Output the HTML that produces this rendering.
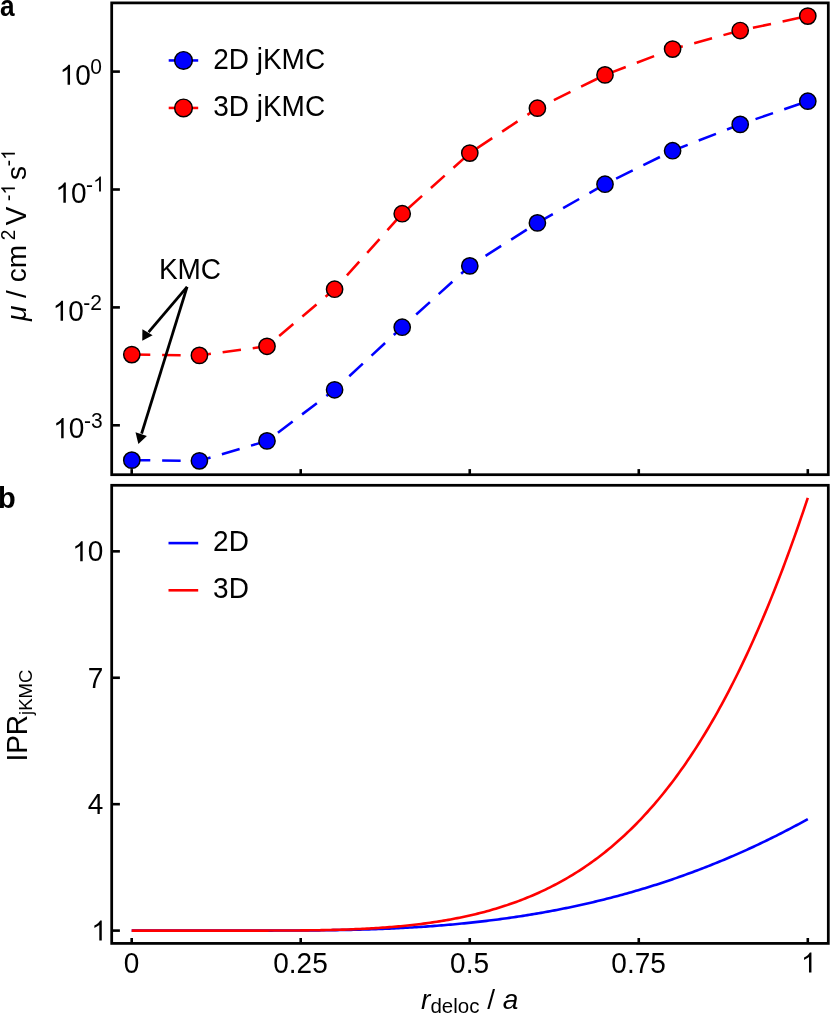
<!DOCTYPE html>
<html><head><meta charset="utf-8"><title>chart</title>
<style>html,body{margin:0;padding:0;background:#fff;}body{width:831px;height:1016px;overflow:hidden;font-family:"Liberation Sans", sans-serif;}svg{display:block;will-change:transform;}</style></head>
<body>
<svg width="831" height="1016" viewBox="0 0 831 1016" font-family='"Liberation Sans", sans-serif' font-size="28" fill="#000">
<rect width="831" height="1016" fill="#fff"/>
<path d="M131.80,460.15 L199.40,460.85 L267.00,440.90 L334.60,389.80 L402.20,327.20 L469.80,265.90 L537.40,222.90 L605.00,184.20 L672.60,150.70 L740.20,124.40 L807.80,101.20" fill="none" stroke="#0000ff" stroke-width="2.55" stroke-dasharray="18.5 11.85"/>
<path d="M131.80,354.60 L199.40,355.40 L267.00,346.30 L334.60,289.20 L402.20,213.70 L469.80,153.10 L537.40,108.20 L605.00,74.90 L672.60,49.10 L740.20,30.50 L807.80,16.10" fill="none" stroke="#ff0000" stroke-width="2.55" stroke-dasharray="18.5 11.85"/>
<path d="M131.70,930.60 L133.96,930.60 L136.22,930.60 L138.48,930.60 L140.74,930.60 L143.01,930.60 L145.27,930.60 L147.53,930.60 L149.79,930.60 L152.05,930.60 L154.31,930.60 L156.57,930.60 L158.83,930.60 L161.10,930.60 L163.36,930.60 L165.62,930.60 L167.88,930.60 L170.14,930.60 L172.40,930.60 L174.66,930.60 L176.92,930.60 L179.19,930.60 L181.45,930.60 L183.71,930.60 L185.97,930.60 L188.23,930.60 L190.49,930.60 L192.75,930.60 L195.01,930.60 L197.27,930.60 L199.54,930.60 L201.80,930.60 L204.06,930.60 L206.32,930.60 L208.58,930.60 L210.84,930.60 L213.10,930.60 L215.36,930.60 L217.63,930.60 L219.89,930.60 L222.15,930.60 L224.41,930.60 L226.67,930.60 L228.93,930.60 L231.19,930.60 L233.45,930.60 L235.72,930.60 L237.98,930.60 L240.24,930.60 L242.50,930.60 L244.76,930.60 L247.02,930.60 L249.28,930.60 L251.54,930.60 L253.81,930.59 L256.07,930.59 L258.33,930.59 L260.59,930.59 L262.85,930.59 L265.11,930.59 L267.37,930.58 L269.63,930.58 L271.89,930.58 L274.16,930.57 L276.42,930.57 L278.68,930.57 L280.94,930.56 L283.20,930.55 L285.46,930.55 L287.72,930.54 L289.98,930.53 L292.25,930.52 L294.51,930.51 L296.77,930.50 L299.03,930.49 L301.29,930.48 L303.55,930.47 L305.81,930.45 L308.07,930.44 L310.34,930.42 L312.60,930.40 L314.86,930.38 L317.12,930.36 L319.38,930.34 L321.64,930.31 L323.90,930.29 L326.16,930.26 L328.42,930.23 L330.69,930.20 L332.95,930.17 L335.21,930.13 L337.47,930.09 L339.73,930.06 L341.99,930.02 L344.25,929.97 L346.51,929.93 L348.78,929.88 L351.04,929.83 L353.30,929.78 L355.56,929.73 L357.82,929.67 L360.08,929.61 L362.34,929.55 L364.60,929.48 L366.87,929.42 L369.13,929.35 L371.39,929.27 L373.65,929.20 L375.91,929.12 L378.17,929.04 L380.43,928.95 L382.69,928.87 L384.95,928.78 L387.22,928.68 L389.48,928.59 L391.74,928.49 L394.00,928.38 L396.26,928.28 L398.52,928.17 L400.78,928.06 L403.04,927.94 L405.31,927.82 L407.57,927.70 L409.83,927.57 L412.09,927.44 L414.35,927.30 L416.61,927.16 L418.87,927.02 L421.13,926.88 L423.40,926.73 L425.66,926.58 L427.92,926.42 L430.18,926.26 L432.44,926.09 L434.70,925.92 L436.96,925.75 L439.22,925.57 L441.48,925.39 L443.75,925.21 L446.01,925.02 L448.27,924.82 L450.53,924.63 L452.79,924.42 L455.05,924.22 L457.31,924.01 L459.57,923.79 L461.84,923.57 L464.10,923.35 L466.36,923.12 L468.62,922.89 L470.88,922.65 L473.14,922.41 L475.40,922.16 L477.66,921.91 L479.93,921.65 L482.19,921.39 L484.45,921.13 L486.71,920.86 L488.97,920.58 L491.23,920.30 L493.49,920.02 L495.75,919.73 L498.02,919.43 L500.28,919.13 L502.54,918.83 L504.80,918.52 L507.06,918.20 L509.32,917.88 L511.58,917.56 L513.84,917.23 L516.10,916.89 L518.37,916.55 L520.63,916.20 L522.89,915.85 L525.15,915.50 L527.41,915.14 L529.67,914.77 L531.93,914.40 L534.19,914.02 L536.46,913.63 L538.72,913.24 L540.98,912.85 L543.24,912.45 L545.50,912.04 L547.76,911.63 L550.02,911.22 L552.28,910.79 L554.55,910.36 L556.81,909.93 L559.07,909.49 L561.33,909.04 L563.59,908.59 L565.85,908.13 L568.11,907.67 L570.37,907.20 L572.63,906.73 L574.90,906.24 L577.16,905.76 L579.42,905.26 L581.68,904.76 L583.94,904.26 L586.20,903.75 L588.46,903.23 L590.72,902.70 L592.99,902.17 L595.25,901.64 L597.51,901.09 L599.77,900.54 L602.03,899.99 L604.29,899.42 L606.55,898.85 L608.81,898.28 L611.08,897.70 L613.34,897.11 L615.60,896.51 L617.86,895.91 L620.12,895.30 L622.38,894.69 L624.64,894.07 L626.90,893.44 L629.16,892.80 L631.43,892.16 L633.69,891.51 L635.95,890.86 L638.21,890.20 L640.47,889.53 L642.73,888.85 L644.99,888.17 L647.25,887.48 L649.52,886.78 L651.78,886.08 L654.04,885.36 L656.30,884.65 L658.56,883.92 L660.82,883.19 L663.08,882.45 L665.34,881.70 L667.61,880.95 L669.87,880.19 L672.13,879.42 L674.39,878.64 L676.65,877.86 L678.91,877.07 L681.17,876.27 L683.43,875.47 L685.69,874.65 L687.96,873.83 L690.22,873.00 L692.48,872.17 L694.74,871.33 L697.00,870.48 L699.26,869.62 L701.52,868.75 L703.78,867.88 L706.05,867.00 L708.31,866.11 L710.57,865.21 L712.83,864.31 L715.09,863.40 L717.35,862.48 L719.61,861.55 L721.87,860.62 L724.14,859.68 L726.40,858.72 L728.66,857.77 L730.92,856.80 L733.18,855.83 L735.44,854.84 L737.70,853.85 L739.96,852.86 L742.23,851.85 L744.49,850.84 L746.75,849.81 L749.01,848.78 L751.27,847.74 L753.53,846.70 L755.79,845.64 L758.05,844.58 L760.31,843.51 L762.58,842.43 L764.84,841.34 L767.10,840.25 L769.36,839.15 L771.62,838.03 L773.88,836.91 L776.14,835.79 L778.40,834.65 L780.67,833.51 L782.93,832.35 L785.19,831.19 L787.45,830.02 L789.71,828.84 L791.97,827.66 L794.23,826.46 L796.49,825.26 L798.76,824.05 L801.02,822.83 L803.28,821.60 L805.54,820.36 L807.80,819.12" fill="none" stroke="#0000ff" stroke-width="2.6" stroke-linejoin="round"/>
<path d="M131.70,930.60 L133.96,930.60 L136.22,930.60 L138.48,930.60 L140.74,930.60 L143.01,930.60 L145.27,930.60 L147.53,930.60 L149.79,930.60 L152.05,930.60 L154.31,930.60 L156.57,930.60 L158.83,930.60 L161.10,930.60 L163.36,930.60 L165.62,930.60 L167.88,930.60 L170.14,930.60 L172.40,930.60 L174.66,930.60 L176.92,930.60 L179.19,930.60 L181.45,930.60 L183.71,930.60 L185.97,930.60 L188.23,930.60 L190.49,930.60 L192.75,930.60 L195.01,930.60 L197.27,930.60 L199.54,930.60 L201.80,930.60 L204.06,930.60 L206.32,930.60 L208.58,930.60 L210.84,930.60 L213.10,930.60 L215.36,930.60 L217.63,930.60 L219.89,930.60 L222.15,930.60 L224.41,930.60 L226.67,930.60 L228.93,930.60 L231.19,930.60 L233.45,930.60 L235.72,930.60 L237.98,930.60 L240.24,930.60 L242.50,930.60 L244.76,930.60 L247.02,930.60 L249.28,930.59 L251.54,930.59 L253.81,930.59 L256.07,930.59 L258.33,930.59 L260.59,930.59 L262.85,930.58 L265.11,930.58 L267.37,930.58 L269.63,930.57 L271.89,930.57 L274.16,930.56 L276.42,930.55 L278.68,930.55 L280.94,930.54 L283.20,930.53 L285.46,930.52 L287.72,930.51 L289.98,930.50 L292.25,930.48 L294.51,930.47 L296.77,930.45 L299.03,930.43 L301.29,930.41 L303.55,930.39 L305.81,930.37 L308.07,930.34 L310.34,930.31 L312.60,930.28 L314.86,930.25 L317.12,930.22 L319.38,930.18 L321.64,930.14 L323.90,930.10 L326.16,930.06 L328.42,930.01 L330.69,929.96 L332.95,929.90 L335.21,929.85 L337.47,929.79 L339.73,929.72 L341.99,929.65 L344.25,929.58 L346.51,929.51 L348.78,929.43 L351.04,929.34 L353.30,929.26 L355.56,929.16 L357.82,929.07 L360.08,928.96 L362.34,928.86 L364.60,928.75 L366.87,928.63 L369.13,928.51 L371.39,928.38 L373.65,928.25 L375.91,928.11 L378.17,927.97 L380.43,927.82 L382.69,927.66 L384.95,927.50 L387.22,927.33 L389.48,927.15 L391.74,926.97 L394.00,926.79 L396.26,926.59 L398.52,926.39 L400.78,926.18 L403.04,925.96 L405.31,925.74 L407.57,925.51 L409.83,925.27 L412.09,925.02 L414.35,924.76 L416.61,924.50 L418.87,924.23 L421.13,923.95 L423.40,923.66 L425.66,923.36 L427.92,923.05 L430.18,922.74 L432.44,922.41 L434.70,922.07 L436.96,921.73 L439.22,921.37 L441.48,921.01 L443.75,920.63 L446.01,920.25 L448.27,919.85 L450.53,919.44 L452.79,919.02 L455.05,918.59 L457.31,918.15 L459.57,917.70 L461.84,917.23 L464.10,916.76 L466.36,916.27 L468.62,915.77 L470.88,915.25 L473.14,914.72 L475.40,914.18 L477.66,913.63 L479.93,913.06 L482.19,912.48 L484.45,911.89 L486.71,911.28 L488.97,910.65 L491.23,910.01 L493.49,909.36 L495.75,908.69 L498.02,908.01 L500.28,907.31 L502.54,906.59 L504.80,905.86 L507.06,905.11 L509.32,904.34 L511.58,903.56 L513.84,902.76 L516.10,901.94 L518.37,901.10 L520.63,900.25 L522.89,899.37 L525.15,898.48 L527.41,897.57 L529.67,896.64 L531.93,895.69 L534.19,894.71 L536.46,893.72 L538.72,892.71 L540.98,891.68 L543.24,890.62 L545.50,889.55 L547.76,888.45 L550.02,887.33 L552.28,886.18 L554.55,885.01 L556.81,883.82 L559.07,882.61 L561.33,881.37 L563.59,880.10 L565.85,878.82 L568.11,877.50 L570.37,876.16 L572.63,874.80 L574.90,873.40 L577.16,871.98 L579.42,870.54 L581.68,869.06 L583.94,867.56 L586.20,866.03 L588.46,864.46 L590.72,862.87 L592.99,861.25 L595.25,859.60 L597.51,857.92 L599.77,856.21 L602.03,854.47 L604.29,852.69 L606.55,850.88 L608.81,849.04 L611.08,847.17 L613.34,845.26 L615.60,843.32 L617.86,841.34 L620.12,839.33 L622.38,837.28 L624.64,835.19 L626.90,833.07 L629.16,830.91 L631.43,828.72 L633.69,826.48 L635.95,824.21 L638.21,821.90 L640.47,819.54 L642.73,817.15 L644.99,814.72 L647.25,812.25 L649.52,809.73 L651.78,807.17 L654.04,804.57 L656.30,801.93 L658.56,799.24 L660.82,796.51 L663.08,793.74 L665.34,790.91 L667.61,788.05 L669.87,785.13 L672.13,782.17 L674.39,779.17 L676.65,776.11 L678.91,773.01 L681.17,769.85 L683.43,766.65 L685.69,763.40 L687.96,760.09 L690.22,756.74 L692.48,753.33 L694.74,749.87 L697.00,746.36 L699.26,742.79 L701.52,739.17 L703.78,735.50 L706.05,731.77 L708.31,727.98 L710.57,724.14 L712.83,720.25 L715.09,716.29 L717.35,712.28 L719.61,708.21 L721.87,704.07 L724.14,699.88 L726.40,695.63 L728.66,691.32 L730.92,686.95 L733.18,682.51 L735.44,678.02 L737.70,673.46 L739.96,668.83 L742.23,664.15 L744.49,659.39 L746.75,654.58 L749.01,649.69 L751.27,644.74 L753.53,639.73 L755.79,634.64 L758.05,629.49 L760.31,624.27 L762.58,618.98 L764.84,613.62 L767.10,608.19 L769.36,602.69 L771.62,597.12 L773.88,591.47 L776.14,585.76 L778.40,579.97 L780.67,574.11 L782.93,568.17 L785.19,562.16 L787.45,556.07 L789.71,549.91 L791.97,543.67 L794.23,537.35 L796.49,530.96 L798.76,524.49 L801.02,517.94 L803.28,511.31 L805.54,504.61 L807.80,497.82" fill="none" stroke="#ff0000" stroke-width="2.6" stroke-linejoin="round"/>
<rect x="111.7" y="2.9" width="716.60" height="471.80" fill="none" stroke="#000" stroke-width="2.75"/>
<rect x="111.7" y="485.3" width="716.60" height="458.10" fill="none" stroke="#000" stroke-width="2.75"/>
<line x1="131.70" y1="474.7" x2="131.70" y2="469.10" stroke="#000" stroke-width="2.6"/>
<line x1="131.70" y1="943.4" x2="131.70" y2="938.00" stroke="#000" stroke-width="2.6"/>
<line x1="300.72" y1="474.7" x2="300.72" y2="469.10" stroke="#000" stroke-width="2.6"/>
<line x1="300.72" y1="943.4" x2="300.72" y2="938.00" stroke="#000" stroke-width="2.6"/>
<line x1="469.75" y1="474.7" x2="469.75" y2="469.10" stroke="#000" stroke-width="2.6"/>
<line x1="469.75" y1="943.4" x2="469.75" y2="938.00" stroke="#000" stroke-width="2.6"/>
<line x1="638.77" y1="474.7" x2="638.77" y2="469.10" stroke="#000" stroke-width="2.6"/>
<line x1="638.77" y1="943.4" x2="638.77" y2="938.00" stroke="#000" stroke-width="2.6"/>
<line x1="807.80" y1="474.7" x2="807.80" y2="469.10" stroke="#000" stroke-width="2.6"/>
<line x1="807.80" y1="943.4" x2="807.80" y2="938.00" stroke="#000" stroke-width="2.6"/>
<line x1="111.7" y1="71.60" x2="119.90" y2="71.60" stroke="#000" stroke-width="2.6"/>
<line x1="111.7" y1="189.50" x2="119.90" y2="189.50" stroke="#000" stroke-width="2.6"/>
<line x1="111.7" y1="307.40" x2="119.90" y2="307.40" stroke="#000" stroke-width="2.6"/>
<line x1="111.7" y1="425.30" x2="119.90" y2="425.30" stroke="#000" stroke-width="2.6"/>
<line x1="111.7" y1="930.60" x2="119.90" y2="930.60" stroke="#000" stroke-width="2.6"/>
<line x1="111.7" y1="804.18" x2="119.90" y2="804.18" stroke="#000" stroke-width="2.6"/>
<line x1="111.7" y1="677.76" x2="119.90" y2="677.76" stroke="#000" stroke-width="2.6"/>
<line x1="111.7" y1="551.34" x2="119.90" y2="551.34" stroke="#000" stroke-width="2.6"/>
<line x1="187.1" y1="286.9" x2="148.6" y2="332.1" stroke="#000" stroke-width="2.8"/>
<polygon points="142.27,340.75 142.4,329.2 152.6,335.2" fill="#000"/>
<line x1="187.1" y1="286.9" x2="141.6" y2="433.7" stroke="#000" stroke-width="2.8"/>
<polygon points="138.37,443.9 135.5,432.3 146.9,435.9" fill="#000"/>
<circle cx="131.8" cy="460.15" r="8.15" fill="#0000ff" stroke="#000" stroke-width="1.45"/>
<circle cx="199.4" cy="460.85" r="8.15" fill="#0000ff" stroke="#000" stroke-width="1.45"/>
<circle cx="267.0" cy="440.9" r="8.15" fill="#0000ff" stroke="#000" stroke-width="1.45"/>
<circle cx="334.6" cy="389.8" r="8.15" fill="#0000ff" stroke="#000" stroke-width="1.45"/>
<circle cx="402.2" cy="327.2" r="8.15" fill="#0000ff" stroke="#000" stroke-width="1.45"/>
<circle cx="469.8" cy="265.9" r="8.15" fill="#0000ff" stroke="#000" stroke-width="1.45"/>
<circle cx="537.4" cy="222.9" r="8.15" fill="#0000ff" stroke="#000" stroke-width="1.45"/>
<circle cx="605.0" cy="184.2" r="8.15" fill="#0000ff" stroke="#000" stroke-width="1.45"/>
<circle cx="672.6" cy="150.7" r="8.15" fill="#0000ff" stroke="#000" stroke-width="1.45"/>
<circle cx="740.2" cy="124.4" r="8.15" fill="#0000ff" stroke="#000" stroke-width="1.45"/>
<circle cx="807.8" cy="101.2" r="8.15" fill="#0000ff" stroke="#000" stroke-width="1.45"/>
<circle cx="131.8" cy="354.6" r="8.15" fill="#ff0000" stroke="#000" stroke-width="1.45"/>
<circle cx="199.4" cy="355.4" r="8.15" fill="#ff0000" stroke="#000" stroke-width="1.45"/>
<circle cx="267.0" cy="346.3" r="8.15" fill="#ff0000" stroke="#000" stroke-width="1.45"/>
<circle cx="334.6" cy="289.2" r="8.15" fill="#ff0000" stroke="#000" stroke-width="1.45"/>
<circle cx="402.2" cy="213.7" r="8.15" fill="#ff0000" stroke="#000" stroke-width="1.45"/>
<circle cx="469.8" cy="153.1" r="8.15" fill="#ff0000" stroke="#000" stroke-width="1.45"/>
<circle cx="537.4" cy="108.2" r="8.15" fill="#ff0000" stroke="#000" stroke-width="1.45"/>
<circle cx="605.0" cy="74.9" r="8.15" fill="#ff0000" stroke="#000" stroke-width="1.45"/>
<circle cx="672.6" cy="49.1" r="8.15" fill="#ff0000" stroke="#000" stroke-width="1.45"/>
<circle cx="740.2" cy="30.5" r="8.15" fill="#ff0000" stroke="#000" stroke-width="1.45"/>
<circle cx="807.8" cy="16.1" r="8.15" fill="#ff0000" stroke="#000" stroke-width="1.45"/>
<line x1="168.7" y1="60.45" x2="198.2" y2="60.45" stroke="#0000ff" stroke-width="2.55"/>
<circle cx="183.5" cy="60.45" r="8.85" fill="#0000ff" stroke="#000" stroke-width="1.45"/>
<text transform="translate(213.20,68.50) scale(1,1.04)" font-size="28">2D jKMC</text>
<line x1="168.7" y1="107.95" x2="198.2" y2="107.95" stroke="#ff0000" stroke-width="2.55"/>
<circle cx="183.5" cy="107.95" r="8.85" fill="#ff0000" stroke="#000" stroke-width="1.45"/>
<text transform="translate(213.20,115.90) scale(1,1.04)" font-size="28">3D jKMC</text>
<line x1="168.5" y1="543.1" x2="198.2" y2="543.1" stroke="#0000ff" stroke-width="2.6"/>
<text transform="translate(213.10,550.70) scale(1,1.04)" font-size="28">2D</text>
<line x1="168.5" y1="590.3" x2="198.2" y2="590.3" stroke="#ff0000" stroke-width="2.6"/>
<text transform="translate(213.10,598.40) scale(1,1.04)" font-size="28">3D</text>
<text transform="translate(158.90,278.70) scale(1,1.04)" font-size="28">KMC</text>
<text transform="translate(-0.1,15.85) scale(0.905,1)" font-weight="bold" font-size="29">a</text>
<text x="-1.9" y="507.5" font-weight="bold" font-size="29">b</text>
<g transform="translate(59.60,84.80)"><path d="M763 0H583V1147Q518 1085 412.5 1023Q307 961 223 930V1104Q374 1175 487 1276Q600 1377 647 1472H763Z" transform="translate(0.00,0) scale(0.013672,-0.013672)"/><text transform="translate(15.57,0) scale(1,1.04)" font-size="28">0</text></g><g transform="translate(90.30,73.60)"><text transform="translate(0.00,0) scale(1,1.04)" font-size="21">0</text></g>
<g transform="translate(55.40,202.70)"><path d="M763 0H583V1147Q518 1085 412.5 1023Q307 961 223 930V1104Q374 1175 487 1276Q600 1377 647 1472H763Z" transform="translate(0.00,0) scale(0.013672,-0.013672)"/><text transform="translate(15.57,0) scale(1,1.04)" font-size="28">0</text></g><g transform="translate(86.10,191.60)"><text transform="translate(0.00,0) scale(1,1.04)" font-size="21">-</text><path d="M763 0H583V1147Q518 1085 412.5 1023Q307 961 223 930V1104Q374 1175 487 1276Q600 1377 647 1472H763Z" transform="translate(6.99,0) scale(0.010254,-0.010254)"/></g>
<g transform="translate(52.60,320.80)"><path d="M763 0H583V1147Q518 1085 412.5 1023Q307 961 223 930V1104Q374 1175 487 1276Q600 1377 647 1472H763Z" transform="translate(0.00,0) scale(0.013672,-0.013672)"/><text transform="translate(15.57,0) scale(1,1.04)" font-size="28">0</text></g><g transform="translate(83.30,309.60)"><text transform="translate(0.00,0) scale(1,1.04)" font-size="21">-2</text></g>
<g transform="translate(53.20,438.20)"><path d="M763 0H583V1147Q518 1085 412.5 1023Q307 961 223 930V1104Q374 1175 487 1276Q600 1377 647 1472H763Z" transform="translate(0.00,0) scale(0.013672,-0.013672)"/><text transform="translate(15.57,0) scale(1,1.04)" font-size="28">0</text></g><g transform="translate(84.00,427.70)"><text transform="translate(0.00,0) scale(1,1.04)" font-size="21">-3</text></g>
<g transform="translate(91.33,940.60)"><path d="M763 0H583V1147Q518 1085 412.5 1023Q307 961 223 930V1104Q374 1175 487 1276Q600 1377 647 1472H763Z" transform="translate(0.00,0) scale(0.013672,-0.013672)"/></g>
<g transform="translate(87.83,814.18)"><text transform="translate(0.00,0) scale(1,1.04)" font-size="28">4</text></g>
<g transform="translate(87.83,687.76)"><text transform="translate(0.00,0) scale(1,1.04)" font-size="28">7</text></g>
<g transform="translate(72.26,561.34)"><path d="M763 0H583V1147Q518 1085 412.5 1023Q307 961 223 930V1104Q374 1175 487 1276Q600 1377 647 1472H763Z" transform="translate(0.00,0) scale(0.013672,-0.013672)"/><text transform="translate(15.57,0) scale(1,1.04)" font-size="28">0</text></g>
<g transform="translate(123.71,972.60)"><text transform="translate(0.00,0) scale(1,1.04)" font-size="28">0</text></g>
<g transform="translate(273.28,972.60)"><text transform="translate(0.00,0) scale(1,1.04)" font-size="28">0.25</text></g>
<g transform="translate(450.09,972.60)"><text transform="translate(0.00,0) scale(1,1.04)" font-size="28">0.5</text></g>
<g transform="translate(611.33,972.60)"><text transform="translate(0.00,0) scale(1,1.04)" font-size="28">0.75</text></g>
<g transform="translate(801.01,972.60)"><path d="M763 0H583V1147Q518 1085 412.5 1023Q307 961 223 930V1104Q374 1175 487 1276Q600 1377 647 1472H763Z" transform="translate(0.00,0) scale(0.013672,-0.013672)"/></g>
<text x="421.1" y="1008.5"><tspan font-style="italic">r</tspan><tspan font-size="20.5" dy="4.6">deloc</tspan><tspan dy="-4.6"> / </tspan><tspan font-style="italic">a</tspan></text>
<g transform="translate(25.8,321.0) rotate(-90)"><text x="0" y="0"><tspan font-style="italic">μ</tspan> / cm</text><g transform="translate(80.80,-10.90)"><text transform="translate(0.00,0) scale(1,1.04)" font-size="19">2</text></g><text transform="translate(95.80,0.00) scale(1,1.04)" font-size="28">V</text><g transform="translate(120.00,-10.90)"><text transform="translate(0.00,0) scale(1,1.04)" font-size="19">-</text><path d="M763 0H583V1147Q518 1085 412.5 1023Q307 961 223 930V1104Q374 1175 487 1276Q600 1377 647 1472H763Z" transform="translate(6.33,0) scale(0.009277,-0.009277)"/></g><text x="140.9" y="0">s</text><g transform="translate(154.80,-10.90)"><text transform="translate(0.00,0) scale(1,1.04)" font-size="19">-</text><path d="M763 0H583V1147Q518 1085 412.5 1023Q307 961 223 930V1104Q374 1175 487 1276Q600 1377 647 1472H763Z" transform="translate(6.33,0) scale(0.009277,-0.009277)"/></g></g>
<g transform="translate(26.5,761.6) rotate(-90)"><text transform="translate(0.00,0.00) scale(1,1.04)" font-size="28">IPR</text><text transform="translate(46.70,5.60) scale(1,1.04)" font-size="18.5">jKMC</text></g>
</svg>
</body></html>
